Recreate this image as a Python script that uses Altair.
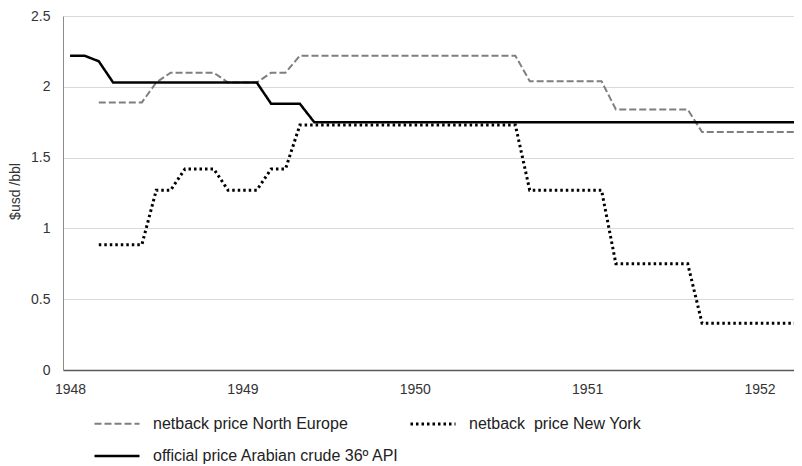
import altair as alt
import pandas as pd

# month labels (Excel-style monthly category axis, Jan 1948 onward)
months = [f"{1948 + i // 12}-{i % 12 + 1:02d}" for i in range(52)]

official = [2.22, 2.22, 2.18,
            2.03, 2.03, 2.03, 2.03, 2.03, 2.03, 2.03, 2.03, 2.03, 2.03, 2.03,
            1.88, 1.88, 1.88,
            1.75, 1.75, 1.75, 1.75, 1.75, 1.75, 1.75, 1.75, 1.75, 1.75,
            1.75, 1.75, 1.75, 1.75, 1.75, 1.75, 1.75, 1.75, 1.75, 1.75,
            1.75, 1.75, 1.75, 1.75, 1.75, 1.75, 1.75, 1.75, 1.75, 1.75,
            1.75, 1.75, 1.75, 1.75, 1.75]

north_europe = [None, None,
                1.89, 1.89, 1.89, 1.89,
                2.03,
                2.10, 2.10, 2.10, 2.10,
                2.03, 2.03, 2.03,
                2.10, 2.10,
                2.22, 2.22, 2.22, 2.22, 2.22, 2.22, 2.22, 2.22,
                2.22, 2.22, 2.22, 2.22, 2.22, 2.22, 2.22, 2.22,
                2.04, 2.04, 2.04, 2.04, 2.04, 2.04,
                1.84, 1.84, 1.84, 1.84, 1.84, 1.84,
                1.68, 1.68, 1.68, 1.68, 1.68, 1.68, 1.68, 1.68]

new_york = [None, None,
            0.885, 0.885, 0.885, 0.885,
            1.27, 1.27,
            1.42, 1.42, 1.42,
            1.27, 1.27, 1.27,
            1.42, 1.42,
            1.73, 1.73, 1.73, 1.73, 1.73, 1.73, 1.73, 1.73,
            1.73, 1.73, 1.73, 1.73, 1.73, 1.73, 1.73, 1.73,
            1.27, 1.27, 1.27, 1.27, 1.27, 1.27,
            0.75, 0.75, 0.75, 0.75, 0.75, 0.75,
            0.33, 0.33, 0.33, 0.33, 0.33, 0.33, 0.33, 0.33]

# legend fills column by column: NE & official in column 1, NY in column 2
series_names = ["netback price North Europe",
                "official price Arabian crude 36º API",
                "netback\u00a0 price New York"]
series_values = [north_europe, official, new_york]
series_colors = ["#7f7f7f", "#000000", "#000000"]
series_dash = [[7, 3], [1, 0], [2.5, 3]]
series_width = [2, 3, 2.5]

year_ticks = [1948, 1949, 1950, 1951, 1952]
y_ticks = [0, 0.5, 1, 1.5, 2, 2.5]

rows = []
for name, vals in zip(series_names, series_values):
    for m, v in zip(months, vals):
        if v is None:
            continue
        y, mo = m.split("-")
        rows.append({"year": int(y) + (int(mo) - 1) / 12.0, "value": v, "series": name})
df = pd.DataFrame(rows)

FONT = "Liberation Sans"

legend_opts = dict(title=None, orient="none", legendX=30, legendY=384,
                   columns=2, columnPadding=4, rowPadding=0,
                   symbolType="stroke", symbolSize=2025,
                   symbolStrokeWidth=2.5, labelOffset=12, labelLimit=0,
                   labelFont=FONT, labelFontSize=16,
                   labelColor="#222222", padding=0)

chart = alt.Chart(df).mark_line(clip=True).encode(
    x=alt.X("year:Q",
            scale=alt.Scale(domain=[1947.959, 1952.2], nice=False, zero=False),
            axis=alt.Axis(values=year_ticks, format="d", title=None, grid=False,
                          ticks=False, labelPadding=12, labelFlush=False,
                          domainColor="#595959", domainWidth=1.5,
                          labelFontSize=14, labelColor="#333333", labelFont=FONT)),
    y=alt.Y("value:Q",
            scale=alt.Scale(domain=[0, 2.5], nice=False),
            axis=alt.Axis(values=y_ticks, format="~g", title="$usd /bbl", grid=True,
                          gridColor="#d9d9d9", gridWidth=1.2, ticks=False,
                          labelPadding=13, domainColor="#8c8c8c", domainWidth=1,
                          labelFontSize=14, labelColor="#333333", labelFont=FONT,
                          titleFont=FONT, titleFontSize=14, titleFontWeight="normal",
                          titleColor="#333333", titleAngle=270, titleX=-48, titleY=175,
                          titleAlign="center", titleBaseline="middle")),
    color=alt.Color("series:N",
                    scale=alt.Scale(domain=series_names, range=series_colors),
                    legend=alt.Legend(**legend_opts)),
    strokeDash=alt.StrokeDash("series:N",
                              scale=alt.Scale(domain=series_names, range=series_dash),
                              legend=alt.Legend(**legend_opts)),
    strokeWidth=alt.StrokeWidth("series:N",
                                scale=alt.Scale(domain=series_names, range=series_width),
                                legend=None),
).properties(
    width=731, height=354,
    autosize=alt.AutoSizeParams(type="none"),
    padding={"left": 55, "top": 8, "right": 0, "bottom": 96},
).configure_view(stroke=None)

chart.save("out.html", embed_options={"renderer": "svg", "actions": False})
